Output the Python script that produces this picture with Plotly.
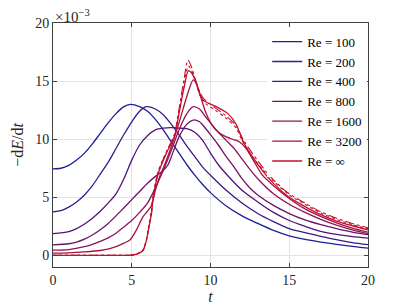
import plotly.graph_objects as go

# Dissipation rate -dE/dt (x 1e-3) versus time t, for several Reynolds numbers
t_100 = [0, 0.5, 1, 1.5, 2, 2.5, 3, 3.5, 4, 4.5, 4.9, 5.5, 6, 6.5, 7, 7.5, 8, 8.5, 9, 9.5, 10, 11, 12, 13, 14, 15, 16, 17, 18, 19, 20]
v_100 = [7.45, 7.5, 7.75, 8.2, 8.8, 9.6, 10.5, 11.4, 12.2, 12.8, 13.0, 12.8, 12.4, 11.7, 10.8, 9.8, 8.8, 7.8, 6.9, 6.1, 5.4, 4.25, 3.4, 2.75, 2.15, 1.68, 1.38, 1.15, 0.95, 0.78, 0.63]

t_200 = [0, 0.5, 1, 1.5, 2, 2.5, 3, 3.5, 4, 4.5, 5, 5.5, 5.9, 6.5, 7, 7.5, 8, 8.5, 9, 9.5, 10, 11, 12, 13, 14, 15, 16, 17, 18, 19, 20]
v_200 = [3.75, 3.85, 4.15, 4.6, 5.2, 6.0, 7.0, 8.0, 9.2, 10.4, 11.5, 12.4, 12.8, 12.6, 12.1, 11.3, 10.4, 9.4, 8.5, 7.6, 6.9, 5.6, 4.5, 3.6, 2.9, 2.3, 1.95, 1.64, 1.35, 1.1, 0.92]

t_400 = [0, 1, 1.5, 2, 2.5, 3, 3.5, 4, 4.5, 5, 5.5, 6, 6.5, 7, 7.5, 8, 8.5, 9, 9.5, 10, 10.5, 11, 12, 13, 14, 15, 16, 17, 18, 19, 20]
v_400 = [1.87, 2.05, 2.3, 2.7, 3.2, 3.8, 4.5, 5.3, 6.6, 8.2, 9.5, 10.3, 10.8, 10.95, 11.0, 10.95, 10.9, 10.6, 9.9, 8.8, 7.8, 7.0, 5.6, 4.6, 3.7, 3.0, 2.5, 2.07, 1.8, 1.62, 1.49]

t_800 = [0, 1, 1.5, 2, 2.5, 3, 3.5, 4, 4.5, 5, 5.5, 6, 6.5, 7, 7.3, 7.6, 8, 8.5, 8.9, 9.3, 9.7, 10, 10.5, 11, 11.5, 12, 12.5, 13, 14, 15, 16, 17, 18, 19, 20]
v_800 = [0.9, 1.0, 1.15, 1.4, 1.75, 2.2, 2.75, 3.4, 4.1, 4.8, 5.5, 6.2, 6.8, 7.3, 7.8, 8.8, 10.2, 11.3, 11.65, 11.5, 10.9, 10.4, 9.5, 8.5, 7.6, 6.6, 5.8, 5.2, 4.3, 3.6, 3.05, 2.64, 2.3, 2.0, 1.78]

t_1600 = [0, 1, 2, 2.5, 3, 3.5, 4, 4.5, 5, 5.5, 6, 6.35, 6.7, 7, 7.5, 8, 8.5, 8.9, 9.3, 9.7, 10, 10.5, 11, 11.5, 12, 12.5, 13, 14, 15, 16, 17, 18, 19, 20]
v_1600 = [0.45, 0.5, 0.75, 0.95, 1.2, 1.5, 1.9, 2.45, 3.0, 3.7, 4.5, 5.4, 6.4, 7.3, 9.0, 10.8, 12.2, 12.8, 12.6, 11.9, 11.4, 10.6, 9.9, 9.2, 8.3, 7.4, 6.6, 5.3, 4.4, 3.7, 3.1, 2.6, 2.2, 1.87]

t_3200 = [0, 1, 2, 3, 3.6, 4, 4.5, 4.9, 5.3, 5.7, 6.0, 6.25, 6.5, 6.8, 7, 7.5, 8, 8.5, 8.9, 9.1, 9.3, 9.7, 10.15, 10.5, 11, 11.5, 11.8, 12.26, 12.8, 13.3, 14, 15, 16, 17, 18, 19, 20]
v_3200 = [0.2, 0.22, 0.3, 0.42, 0.58, 0.75, 1.05, 1.35, 2.2, 3.3, 3.8, 4.3, 5.6, 6.9, 7.5, 9.3, 11.4, 13.7, 15.1, 14.8, 14.0, 12.3, 11.1, 10.6, 10.2, 9.95, 9.8, 9.2, 8.0, 6.9, 6.0, 4.9, 4.0, 3.35, 2.8, 2.35, 2.0]

t_inf = [0, 2, 4, 5, 5.3, 5.7, 5.93, 6.1, 6.25, 6.35, 6.67, 7.2, 7.7, 8.0, 8.3, 8.6, 8.8, 9.0, 9.5, 10.36, 11.1, 11.6, 12.15, 13.3, 14, 15, 16, 17, 18, 19, 20]
v_inf = [0, 0, 0, 0.02, 0.1, 0.4, 1.3, 2.5, 3.6, 4.8, 7.0, 8.8, 10.2, 12.2, 14.3, 15.9, 15.7, 15.2, 13.4, 12.8, 12.2, 11.35, 9.6, 7.3, 6.2, 5.0, 4.2, 3.5, 2.95, 2.55, 2.2]

t_inf_b = [0, 2, 4, 5, 5.3, 5.7, 5.93, 6.1, 6.25, 6.35, 6.67, 7.2, 7.7, 8.0, 8.3, 8.57, 8.8, 9.0, 9.5, 10.3, 11.0, 11.6, 12.15, 13.3, 14, 15, 16, 17, 18, 19, 20]
v_inf_b = [0, 0, 0, 0.02, 0.1, 0.4, 1.3, 2.5, 3.6, 4.9, 7.1, 8.9, 10.4, 12.6, 15.0, 16.8, 16.2, 15.3, 13.6, 12.7, 12.0, 11.2, 9.8, 7.6, 6.5, 5.3, 4.5, 3.75, 3.2, 2.75, 2.38]

t_inf_c = [0, 2, 4, 5, 5.3, 5.7, 5.93, 6.1, 6.25, 6.35, 6.67, 7.2, 7.7, 8.0, 8.3, 8.6, 8.8, 9.0, 9.5, 10.3, 11.0, 11.6, 12.15, 13.3, 14, 15, 16, 17, 18, 19, 20]
v_inf_c = [0, 0, 0, 0.02, 0.1, 0.45, 1.4, 2.7, 3.9, 5.1, 7.2, 8.9, 10.3, 12.4, 14.8, 16.3, 15.9, 15.2, 13.3, 12.5, 11.8, 11.0, 9.5, 7.4, 6.4, 5.2, 4.4, 3.65, 3.1, 2.65, 2.3]

labels = ["Re = 100", "Re = 200", "Re = 400", "Re = 800", "Re = 1600", "Re = 3200", "Re = ∞"]
colors = ["#1c1f96", "#3a1a88", "#521478", "#6e1468", "#8c1458", "#a61242", "#c3102c"]

series_t = [t_100, t_200, t_400, t_800, t_1600, t_3200, t_inf]
series_v = [v_100, v_200, v_400, v_800, v_1600, v_3200, v_inf]

FONT = "Liberation Serif, Times New Roman, serif"

fig = go.Figure()
for tt, vv, name, col in zip(series_t, series_v, labels, colors):
    fig.add_trace(go.Scatter(x=tt, y=vv, mode="lines", name=name,
                             line=dict(color=col, width=1.3, shape="spline", smoothing=0.8)))

fig.add_trace(go.Scatter(x=t_inf_b, y=v_inf_b, mode="lines", showlegend=False,
                         line=dict(color=colors[-1], width=1.1, dash="dashdot", shape="spline", smoothing=0.8)))
fig.add_trace(go.Scatter(x=t_inf_c, y=v_inf_c, mode="lines", showlegend=False,
                         line=dict(color=colors[-1], width=1.1, dash="dot", shape="spline", smoothing=0.8)))

axis_common = dict(
    showline=True, linecolor="#404040", linewidth=1, mirror="ticks",
    ticks="inside", ticklen=4, tickcolor="#404040",
    showgrid=True, gridcolor="#e3e3e3", gridwidth=1, zeroline=False,
    automargin=False,
    tickfont=dict(family=FONT, size=14, color="#262626"),
)

# the page body adds an 8 px offset; margins compensate so the plot box
# lands where the reference has it
fig.update_layout(
    width=407, height=306,
    margin=dict(l=45, r=47, t=15, b=47),
    paper_bgcolor="white", plot_bgcolor="white",
    font=dict(family=FONT),
    showlegend=True,
    legend=dict(x=0.68, y=0.985, xanchor="left", yanchor="top",
                bgcolor="rgba(255,255,255,1)", borderwidth=0,
                font=dict(family=FONT, size=13, color="#000"),
                tracegroupgap=0, itemwidth=30),
    xaxis=dict(range=[0, 20], tickvals=[0, 5, 10, 15, 20],
               title=dict(text="<i>t</i>", standoff=1,
                          font=dict(family=FONT, size=16, color="#262626")),
               **axis_common),
    yaxis=dict(range=[-1, 20], tickvals=[0, 5, 10, 15, 20],
               title=dict(text="−d<i>E</i>/d<i>t</i>", standoff=7,
                          font=dict(family=FONT, size=16, color="#262626")),
               **axis_common),
    annotations=[dict(text="×10<sup>−3</sup>", xref="paper", yref="paper", x=0.0, y=1.0,
                      xanchor="left", yanchor="bottom", yshift=-4, showarrow=False,
                      font=dict(family=FONT, size=15, color="#262626"))],
)

fig.write_html("out.html")
